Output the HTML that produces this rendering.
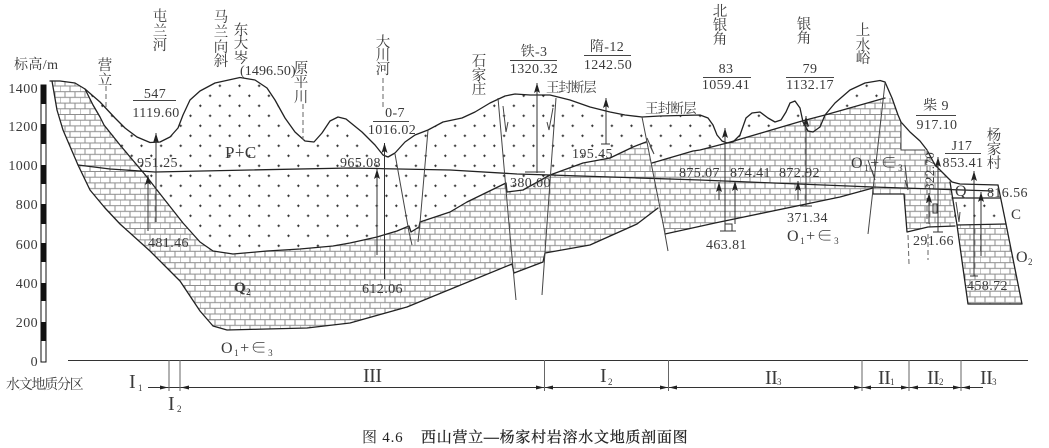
<!DOCTYPE html>
<html><head><meta charset="utf-8">
<style>
html,body{margin:0;padding:0;background:#fff;width:1049px;height:448px;overflow:hidden}
svg{display:block;filter:blur(.3px)}
text{font-family:"Liberation Serif","Noto Serif CJK SC",serif;font-size:14px;fill:#3a3a3a;letter-spacing:.4px}
.c{text-anchor:middle}
.v{font-size:14.5px;text-anchor:middle;letter-spacing:0}
.l{fill:none;stroke:#222;stroke-width:1.3;stroke-linejoin:round;stroke-linecap:round}
.t{fill:none;stroke:#444;stroke-width:1}
.d{fill:none;stroke:#666;stroke-width:1;stroke-dasharray:5 3}
.s{font-size:9px}
.r{font-size:20px;letter-spacing:-.5px}
.o{font-size:16px;letter-spacing:1.5px}
</style></head><body>
<svg width="1049" height="448" viewBox="0 0 1049 448" xmlns="http://www.w3.org/2000/svg">
<defs>
<pattern id="b" width="20" height="11.4" patternUnits="userSpaceOnUse">
<path d="M0 .5H20M0 6.2H20M5 .5V6.2M15 .5V6.2M0 6.2V11.4M10 6.2V11.4" stroke="#8e8e8e" stroke-width="1" fill="none"/>
</pattern>
<pattern id="p" width="19.6" height="20" patternUnits="userSpaceOnUse" x="1" y="3">
<path d="M2 2.8H4.6M3.3 1.5V4.1M11.8 12.8H14.4M13.1 11.5V14.1" stroke="#222" stroke-width=".9"/>
</pattern>
<marker id="a" markerUnits="userSpaceOnUse" markerWidth="11" markerHeight="7" refX="10" refY="3" orient="auto"><path d="M0 0L10 3L0 6L2 3Z" fill="#222"/></marker>
</defs>
<rect width="1049" height="448" fill="#fff"/>

<polygon fill="url(#b)" points="52,81 75,83 85,89 93,105 100,117 104,125 120,145 147,177 157,190 183,223 200,242 213,251 233,254 267,251 300,249 333,246 350,243 377,237 397,231 409,226 411,232 419,227 420,222 450,212 467,202 506,183 507,192 523,190 550,175 583,163 610,158 633,147 646,142 652,163 693,151 700,150 727,143 802,121 825,115 885,98 892,98 898,115 901,122 901,150 925,150 950,182 955,226 928,227 907,232 904,194 873,194 873,188 840,197 715,223 665,234 658,208 637,224 590,245 545,253 543,262 514,273 512,264 407,307 350,323 307,328 267,329 227,330 213,326 200,311 180,281 150,251 120,224 105,208 90,190 78,165 63,130 57,110"/>
<polygon fill="url(#b)" points="957,225 1006,224 1022,304 968,304"/>
<polygon fill="url(#p)" points="85,89 100,102 115,118 125,128 137,137 150,142 160,142 170,137 178,128 183,115 190,100 200,91 215,83 240,77 255,80 267,88 275,100 285,118 295,132 305,141 314,142 322,133 330,121 338,117 346,119 362,132 375,145 383,155 388,157 395,153 405,142 415,135 428,130 443,122 462,118 475,112 490,103 505,96 515,94 530,95 550,95 570,100 590,107 610,112 625,115 642,117 660,116 700,115 708,118 713,125 717,135 722,141 727,143 733,142 740,135 746,118 752,113 760,112 768,118 775,122 781,120 786,112 790,103 795,101 800,108 803,122 808,131 813,132 820,127 825,115 835,103 850,90 865,83 880,80 885,82 885,98 825,115 802,121 727,143 700,150 652,163 646,142 633,147 610,158 583,163 550,175 523,190 507,192 506,183 467,202 450,212 420,222 419,227 411,232 409,226 397,231 377,237 350,243 333,246 300,249 267,251 233,254 213,251 200,242 183,223 157,190 147,177 120,145 104,125 100,117 93,105"/>
<polygon fill="url(#p)" points="953,198 1000,198 1006,224 955,225"/>

<polyline class="l" points="50,81 60,81 75,83 85,89 100,102 115,118 125,128 137,137 150,142.5 160,142 170,137 178,128 183,115 190,100 200,91 215,83 240,77.5 255,80 267,88 275,100 285,118 295,132 305,141 314,142 322,133 330,121 338,117 346,119 362,132 375,145 383,155 388,157 395,153 405,142 415,135 428,130 443,122 462,118 475,112 490,103 505,96 515,94 530,95 550,95 570,100 590,107 610,112 625,115 642,117 660,116 700,115 708,118 713,125 717,135 722,141 727,143 733,142 740,135 746,118 752,113 760,112 768,118 775,122 781,120 786,112 790,103 795,101 800,108 803,122 808,131 813,132 820,127 825,115 835,103 850,90 865,83 880,80.5 885,82 892,98 898,115 901,122 910,132 920,141 927,150 935,165 945,175 952,182 960,184 998,185"/>
<polyline class="l" points="52,81 57,110 63,130 78,165 90,190 105,208 120,224 150,251 180,281 200,311 213,326 227,330 267,329 307,328 350,323 407,307 512,264 514,273 543,262 545,253 590,245 637,224 658,208"/>
<polyline class="l" points="665,234 715,223 840,197 873,188"/>
<polyline class="l" points="873,188 873,194 904,194 907,232 928,227 955,226"/>
<polyline class="l" points="85,89 93,105 100,117 104,125 120,145 147,177 157,190 183,223 200,242 213,251 233,254 267,251 300,249 333,246 350,243 377,237 397,231 409,226 411,232 419,227 420,222 450,212 467,202 506,183 507,192 523,190 550,175 583,163 610,158 633,147 646,142"/>
<polyline class="l" points="652,163 693,151 700,150 727,143 802,121 825,115 885,98"/>
<polyline class="l" points="78,165 110,169 140,171 155,172 250,170 350,168 450,170 517,174 550,175 700,180 873,187 993,191"/>
<polyline class="t" points="395,154 409,232 412,245"/>
<polyline class="t" points="428,130 420,223 418,242"/>
<polyline class="t" points="498,98 509,224 516,300"/>
<polyline class="t" points="556,98 547,224 542,295"/>
<polyline class="t" points="642,117 663,223 668,251"/>
<polyline class="t" points="885,83 868,234"/>
<polyline class="t" points="901,122 901,150 925,150"/>
<path class="t" d="M503 106L506 132L508 122M553 108L549 130L547 122M647 138L654 154L650 146M868 160L875 180L872 170M905 165L908 190L905 180M956 202L959 222M960 212L959 222"/>
<polyline class="l" points="950,182 957,225 968,304 1022,304 1006,224 998,185"/>
<path class="l" d="M952 198H1000M957 225L1006 224"/>
<path class="d" d="M927 150V224M908 235L909 264M928 234V260"/>
<g stroke="#333" stroke-width="1" fill="none">
<path d="M156 222V133" marker-end="url(#a)"/>
<path d="M148 231V175" marker-end="url(#a)"/>
<path d="M377 255V169" marker-end="url(#a)"/>
<path d="M384.5 279V143" marker-end="url(#a)"/>
<path d="M537 173V83" marker-end="url(#a)"/>
<path d="M606 144V98" marker-end="url(#a)"/>
<path d="M725 229V128" marker-end="url(#a)"/>
<path d="M719 200V182" marker-end="url(#a)"/>
<path d="M735 224V181" marker-end="url(#a)"/>
<path d="M806 206V116" marker-end="url(#a)"/>
<path d="M798 200V181" marker-end="url(#a)"/>
<path d="M938 232V157" marker-end="url(#a)"/>
<path d="M929 224V193" marker-end="url(#a)"/>
<path d="M974 276V171" marker-end="url(#a)"/>
<path d="M981 256V192" marker-end="url(#a)"/>
<path d="M525 172H545M601 144H610M720 231H736M800 206H812M933 232H943M970 276H978"/>
<rect x="725" y="224" width="7" height="7"/>
<rect x="933" y="204" width="4" height="9"/>
</g>
<path d="M106 86V107M303 104V140M383 78V110" class="d"/>

<rect x="41" y="85" width="5" height="277" fill="#fff" stroke="#111" stroke-width="1"/>
<path d="M43.5 85V104M43.5 124V144M43.5 165V184M43.5 204V224M43.5 243V262M43.5 283V301M43.5 322V341" stroke="#111" stroke-width="5.5"/>
<g text-anchor="end">
<text x="38" y="93">1400</text><text x="38" y="131">1200</text><text x="38" y="170">1000</text><text x="38" y="209">800</text><text x="38" y="249">600</text><text x="38" y="288">400</text><text x="38" y="327">200</text><text x="38" y="366">0</text>
</g>
<text x="14" y="69">标高/m</text>

<path d="M68 360.5H1028M148 387.5H983" stroke="#333" stroke-width="1"/>
<path d="M169 360V391M180 360V391M544.5 360V391M668.5 360V391M862 360V391M909 360V391M961 360V391" stroke="#666" stroke-width="1"/>
<path fill="#222" d="M168 387.5L160 385.5V389.5ZM181 387.5L189 385.5V389.5ZM544 387.5L536 385.5V389.5ZM545 387.5L553 385.5V389.5ZM668 387.5L660 385.5V389.5ZM669 387.5L677 385.5V389.5ZM862 387.5L854 385.5V389.5ZM863 387.5L871 385.5V389.5ZM909 387.5L901 385.5V389.5ZM910 387.5L918 385.5V389.5ZM961 387.5L953 385.5V389.5ZM962 387.5L970 385.5V389.5Z"/>
<text x="6" y="389" textLength="78" style="font-size:14px">水文地质分区</text>
<text x="129" y="388" class="r">I</text><text x="138" y="391" class="s">1</text>
<text x="168" y="410" class="r">I</text><text x="177" y="412" class="s">2</text>
<text x="363" y="382" class="r">III</text>
<text x="600" y="382" class="r">I</text><text x="608" y="385" class="s">2</text>
<text x="765" y="384" class="r">II</text><text x="777" y="385" class="s">3</text>
<text x="878" y="384" class="r">II</text><text x="890" y="385" class="s">1</text>
<text x="927" y="384" class="r">II</text><text x="939" y="385" class="s">2</text>
<text x="980" y="384" class="r">II</text><text x="992" y="385" class="s">3</text>
<text x="362" y="442" textLength="41" style="fill:#222;font-size:15px">图 4.6</text>
<text x="421" y="442" textLength="267" style="fill:#222;font-size:15px;stroke:#222;stroke-width:.25">西山营立—杨家村岩溶水文地质剖面图</text>

<text class="v"><tspan x="160" y="21">屯</tspan><tspan x="160" y="36">兰</tspan><tspan x="160" y="50">河</tspan></text>
<text class="v"><tspan x="221" y="22">马</tspan><tspan x="221" y="37">兰</tspan><tspan x="221" y="52">向</tspan><tspan x="221" y="66">斜</tspan></text>
<text class="v"><tspan x="241" y="35">东</tspan><tspan x="241" y="48">大</tspan><tspan x="241" y="63">岑</tspan></text>
<text class="v"><tspan x="105" y="70">营</tspan><tspan x="105" y="85">立</tspan></text>
<text class="v"><tspan x="301" y="73">原</tspan><tspan x="301" y="87">平</tspan><tspan x="301" y="102">川</tspan></text>
<text class="v"><tspan x="383" y="47">大</tspan><tspan x="383" y="60">川</tspan><tspan x="383" y="74">河</tspan></text>
<text class="v"><tspan x="479" y="66">石</tspan><tspan x="479" y="80">家</tspan><tspan x="479" y="94">庄</tspan></text>
<text class="v"><tspan x="720" y="16">北</tspan><tspan x="720" y="30">银</tspan><tspan x="720" y="44">角</tspan></text>
<text class="v"><tspan x="804" y="29">银</tspan><tspan x="804" y="43">角</tspan></text>
<text class="v"><tspan x="863" y="35">上</tspan><tspan x="863" y="50">水</tspan><tspan x="863" y="63">峪</tspan></text>
<text class="v"><tspan x="994" y="140">杨</tspan><tspan x="994" y="154">家</tspan><tspan x="994" y="168">村</tspan></text>

<path d="M133 100.5H176M373 121.5H409M510 60.5H557M584 55.5H631M703 77.5H751M786 77.5H834M916 115.5H956M945 153.5H981" stroke="#444" stroke-width="1"/>
<text class="c" x="155" y="98">547</text><text class="c" x="156" y="117">1119.60</text>
<text class="c" x="395" y="117">0-7</text><text class="c" x="392" y="134">1016.02</text>
<text class="c" x="534" y="56">铁-3</text><text class="c" x="534" y="73">1320.32</text>
<text class="c" x="607" y="51">隋-12</text><text class="c" x="608" y="69">1242.50</text>
<text class="c" x="726" y="73">83</text><text class="c" x="726" y="89">1059.41</text>
<text class="c" x="810" y="73">79</text><text class="c" x="810" y="89">1132.17</text>
<text class="c" x="936" y="110">柴 9</text><text class="c" x="937" y="129">917.10</text>
<text class="c" x="962" y="150">J17</text><text class="c" x="963" y="167">853.41</text>

<text x="240" y="75" textLength="56">(1496.50)</text>
<text x="137" y="167">951.25</text>
<text x="340" y="167">965.08</text>
<text x="546" y="92" textLength="51" style="font-size:13.5px">王封断层</text>
<text x="645" y="113" textLength="52" style="font-size:13.5px">王封断层</text>
<text x="572" y="158">195.45</text>
<text x="510" y="187">380.00</text>
<text x="679" y="177">875.07</text>
<text x="730" y="177">874.41</text>
<text x="779" y="177">872.92</text>
<text x="987" y="197">816.56</text>
<text x="148" y="247">481.46</text>
<text x="362" y="293">612.06</text>
<text x="787" y="222">371.34</text>
<text x="706" y="249">463.81</text>
<text x="913" y="245">291.66</text>
<text x="967" y="290">458.72</text>
<text transform="translate(934,190) rotate(-90)" style="font-size:13px">822.70</text>

<text x="225" y="158" style="font-size:17px">P+C</text>
<text x="234" y="292" style="font-size:15px;font-weight:bold">Q<tspan dy="3" class="s">2</tspan></text>
<text x="955" y="196" style="font-size:16px">Q</text>
<text x="1011" y="219" style="font-size:15px">C</text>
<text x="1016" y="262" style="font-size:16px">O<tspan dy="3" class="s">2</tspan></text>
<text x="221" y="353" class="o">O<tspan dy="3" class="s">1</tspan><tspan dy="-3">+∈</tspan><tspan dy="3" class="s">3</tspan></text>
<text x="787" y="241" class="o">O<tspan dy="3" class="s">1</tspan><tspan dy="-3">+∈</tspan><tspan dy="3" class="s">3</tspan></text>
<text x="851" y="168" class="o">O<tspan dy="3" class="s">1</tspan><tspan dy="-3">+∈</tspan><tspan dy="3" class="s">3</tspan></text>
</svg>
</body></html>
